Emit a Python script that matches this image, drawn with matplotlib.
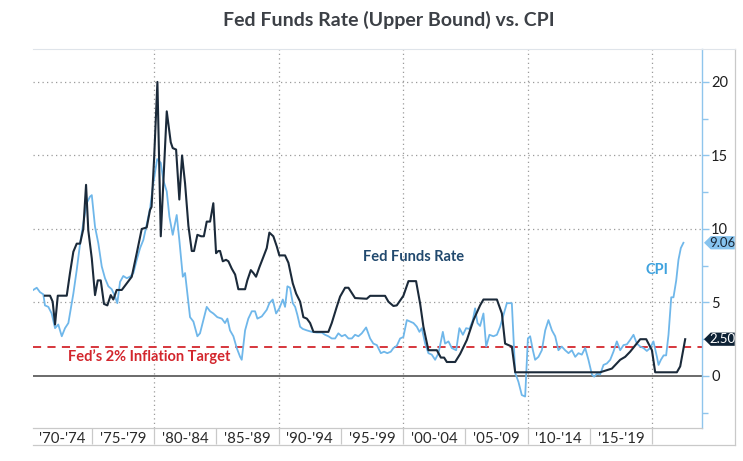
import matplotlib
matplotlib.use("Agg")
import matplotlib.pyplot as plt
from matplotlib.lines import Line2D
from matplotlib.patches import Polygon
import matplotlib.transforms as mtransforms

plt.rcParams['font.family'] = ['Lato', 'DejaVu Sans']

# ---------------- data ----------------
ffr_years = [1971.24, 1971.65, 1971.86, 1972.05, 1972.27, 1972.99, 1973.25, 1973.52, 1973.79, 1974.06,
             1974.32, 1974.54, 1974.72, 1975.0, 1975.26, 1975.48, 1975.72, 1975.98, 1976.25, 1976.52,
             1976.73, 1977.0, 1977.41, 1977.81, 1978.21, 1978.61, 1979.01, 1979.41, 1979.68, 1979.8,
             1980.0, 1980.27, 1980.54, 1981.02, 1981.34, 1981.5, 1981.77, 1982.03, 1982.25, 1982.49,
             1982.76, 1983.03, 1983.21, 1983.48, 1983.78, 1984.0, 1984.23, 1984.5, 1984.76, 1984.98,
             1985.16, 1985.3, 1985.52, 1985.78, 1985.97, 1986.24, 1986.51, 1986.77, 1987.04, 1987.31,
             1987.49, 1987.77, 1987.98, 1988.19, 1988.46, 1988.78, 1989.05, 1989.26, 1989.58, 1989.86,
             1990.06, 1990.52, 1990.79, 1991.14, 1991.41, 1991.73, 1991.99, 1992.27, 1992.53, 1992.8,
             1994.0, 1994.27, 1994.67, 1994.94, 1995.34, 1995.61, 1996.14, 1997.08, 1997.35, 1998.55,
             1998.82, 1999.22, 1999.49, 2000.02, 2000.43, 2001.04, 2001.37, 2001.63, 2002.03, 2002.71,
             2003.03, 2003.29, 2003.51, 2004.18, 2004.58, 2005.12, 2005.65, 2006.18, 2006.45, 2007.53,
             2007.93, 2008.19, 2008.73, 2009.0, 2015.82, 2016.76, 2017.43, 2017.83, 2018.23, 2019.04,
             2019.52, 2019.98, 2020.24, 2021.98, 2022.25, 2022.65]
ffr_vals = [5.46, 5.46, 5.05, 3.5, 5.46, 5.46, 7.0, 8.45, 9.0, 9.0,
            10.0, 13.0, 9.9, 8.0, 5.5, 6.5, 6.5, 4.9, 4.8, 5.5,
            5.2, 5.85, 5.85, 6.3, 6.75, 8.35, 10.0, 10.1, 11.3, 11.5,
            14.7, 20.0, 9.5, 18.0, 15.9, 15.5, 15.4, 12.0, 15.0, 13.1,
            10.2, 8.5, 8.5, 9.6, 9.5, 9.5, 10.5, 10.5, 11.75, 8.35,
            8.5, 8.5, 7.8, 7.9, 7.8, 7.3, 6.9, 5.9, 5.9, 5.9,
            6.5, 7.2, 7.0, 6.75, 7.4, 8.1, 8.7, 9.75, 9.5, 8.8,
            8.2, 8.2, 7.7, 6.3, 5.6, 5.05, 4.0, 3.9, 3.6, 3.0,
            3.0, 3.6, 4.7, 5.4, 6.0, 6.0, 5.3, 5.25, 5.45, 5.45,
            5.05, 4.76, 4.8, 5.45, 6.45, 6.45, 4.9, 3.35, 1.75, 1.75,
            1.25, 1.25, 0.95, 0.95, 1.5, 2.45, 3.8, 4.8, 5.2, 5.2,
            4.25, 2.2, 2.0, 0.25, 0.25, 0.5, 1.1, 1.3, 1.65, 2.5,
            2.5, 1.75, 0.25, 0.25, 0.65, 2.50]

cpi_years = [1970.3, 1970.58, 1970.84, 1971.11, 1971.24, 1971.51, 1971.78, 1972.05, 1972.31, 1972.59,
             1972.85, 1973.12, 1973.52, 1973.79, 1974.06, 1974.32, 1974.59, 1974.86, 1975.0, 1975.26,
             1975.53, 1975.8, 1976.06, 1976.33, 1976.6, 1976.87, 1977.05, 1977.27, 1977.53, 1977.81,
             1978.07, 1978.34, 1978.61, 1978.88, 1979.14, 1979.41, 1979.68, 1979.94, 1980.25, 1980.54,
             1980.75, 1981.02, 1981.23, 1981.5, 1981.82, 1982.03, 1982.31, 1982.49, 1982.89, 1983.16,
             1983.48, 1983.69, 1983.96, 1984.23, 1984.5, 1984.76, 1985.08, 1985.44, 1985.7, 1985.89,
             1986.1, 1986.37, 1986.64, 1986.91, 1987.04, 1987.31, 1987.57, 1987.85, 1988.11, 1988.3,
             1988.65, 1989.05, 1989.26, 1989.53, 1989.8, 1990.06, 1990.34, 1990.52, 1990.71, 1990.92,
             1991.14, 1991.33, 1991.51, 1991.73, 1991.94, 1992.27, 1992.67, 1993.07, 1993.47, 1993.73,
             1994.0, 1994.27, 1994.54, 1994.8, 1995.07, 1995.34, 1995.61, 1995.88, 1996.14, 1996.41,
             1996.68, 1997.03, 1997.35, 1997.61, 1997.89, 1998.21, 1998.47, 1998.73, 1999.01, 1999.22,
             1999.49, 1999.76, 2000.02, 2000.3, 2000.56, 2000.83, 2001.1, 2001.31, 2001.5, 2001.77,
             2002.03, 2002.3, 2002.57, 2002.84, 2003.19, 2003.37, 2003.64, 2003.91, 2004.26, 2004.52,
             2004.8, 2005.06, 2005.33, 2005.6, 2005.78, 2005.97, 2006.18, 2006.45, 2006.67, 2006.93,
             2007.25, 2007.53, 2007.79, 2008.06, 2008.33, 2008.73, 2009.0, 2009.26, 2009.53, 2009.8,
             2010.02, 2010.2, 2010.42, 2010.6, 2010.87, 2011.14, 2011.41, 2011.67, 2011.95, 2012.21,
             2012.47, 2012.74, 2013.01, 2013.28, 2013.55, 2013.82, 2014.08, 2014.35, 2014.62, 2014.88,
             2015.16, 2015.34, 2015.56, 2015.82, 2016.09, 2016.36, 2016.63, 2016.89, 2017.16, 2017.43,
             2017.7, 2017.97, 2018.23, 2018.5, 2018.77, 2019.04, 2019.3, 2019.57, 2019.84, 2020.1,
             2020.38, 2020.51, 2020.7, 2020.92, 2021.12, 2021.31, 2021.53, 2021.71, 2021.93, 2022.11,
             2022.3, 2022.51]
cpi_vals = [5.85, 6.0, 5.7, 5.55, 4.8, 4.7, 4.25, 3.25, 3.5, 2.7,
            3.25, 3.6, 5.6, 7.2, 9.0, 10.4, 11.75, 12.2, 12.3, 10.15,
            9.0, 7.45, 6.65, 6.1, 5.9, 5.4, 4.95, 6.4, 6.8, 6.65,
            6.75, 7.0, 7.9, 8.7, 9.25, 10.3, 11.4, 13.1, 14.75, 14.5,
            13.3, 12.55, 10.85, 9.6, 10.95, 9.25, 6.75, 7.0, 4.0, 3.7,
            2.7, 2.9, 3.8, 4.7, 4.4, 4.25, 4.0, 3.9, 3.6, 3.9,
            3.1, 2.7, 1.9, 1.3, 1.1, 3.1, 3.9, 4.4, 4.4, 3.9,
            4.05, 4.5, 4.95, 5.2, 4.25, 4.6, 5.2, 4.7, 6.1, 6.0,
            4.95, 4.7, 4.15, 3.35, 3.2, 3.1, 3.0, 2.95, 2.95, 2.8,
            2.7, 2.55, 2.55, 2.9, 2.7, 2.8, 2.55, 2.55, 2.8, 2.7,
            2.9, 3.3, 2.55, 2.2, 2.1, 1.55, 1.65, 1.55, 1.65, 1.9,
            2.05, 2.55, 2.65, 3.8, 3.7, 3.6, 3.35, 3.0, 3.25, 2.2,
            1.55, 1.45, 1.1, 1.55, 3.0, 2.2, 2.35, 1.9, 1.75, 3.25,
            2.8, 3.25, 3.2, 3.8, 4.6, 3.6, 3.4, 4.25, 2.0, 2.8,
            2.7, 2.8, 3.35, 4.15, 4.95, 4.95, 0.2, -0.4, -1.3, -1.4,
            2.55, 2.7, 1.75, 1.1, 1.3, 1.75, 3.1, 3.8, 3.1, 2.7,
            1.75, 2.0, 1.75, 1.55, 1.75, 1.3, 1.55, 1.45, 1.9, 1.1,
            0.1, -0.05, 0.15, 0.1, 0.75, 0.85, 1.1, 1.65, 2.35, 1.75,
            2.1, 2.15, 2.45, 2.8, 2.2, 2.0, 1.9, 1.7, 1.9, 2.35,
            1.3, 0.75, 1.1, 1.4, 1.4, 2.8, 5.35, 5.35, 6.5, 7.9,
            8.7, 9.06]

period_labels = ["'70-'74", "'75-'79", "'80-'84", "'85-'89", "'90-'94",
                 "'95-'99", "'00-'04", "'05-'09", "'10-'14", "'15-'19"]
period_bounds = [1975, 1980, 1985, 1990, 1995, 2000, 2005, 2010, 2015, 2020]
decade_grid = [1980, 1990, 2000, 2010, 2020]
right_ticks = [0, 5, 10, 15, 20]
right_minor = [-2.5, 2.5, 7.5, 12.5, 17.5]
inflation_target = 2

# ---------------- styling ----------------
C_FFR = '#1b2a3a'
C_CPI = '#6fb7ea'
C_RED = '#d3262d'
C_AXIS = '#8fc5ec'
C_GRID = '#9b9b9b'
C_FRAME = '#c9c9c9'

W, H = 743, 461
fig = plt.figure(figsize=(W / 100, H / 100), dpi=100)
ax = fig.add_axes([33 / W, 1 - 428 / H, (702 - 33) / W, (428 - 49) / H])
x0, x1 = 1970.28, 2024.0
ax.set_xlim(x0, x1)
ax.set_ylim(-3.54, 22.24)

# grid
for v in right_ticks[1:]:
    ax.axhline(v, color=C_GRID, lw=0.9, linestyle=(0, (1, 2.6)), zorder=1)
for d in decade_grid:
    ax.axvline(d, color=C_GRID, lw=0.9, linestyle=(0, (1, 2.6)), zorder=1)

ax.axhline(0, color='#5f5f5f', lw=1.3, zorder=2)
ax.axhline(inflation_target, color=C_RED, lw=1.3, dashes=(4.5, 3.5), zorder=2)

ax.plot(cpi_years, cpi_vals, color=C_CPI, lw=1.3, zorder=3)
ax.plot(ffr_years, ffr_vals, color=C_FFR, lw=1.5, zorder=4)

# spines
ax.spines['left'].set_visible(False)
ax.spines['right'].set_color(C_AXIS)
ax.spines['right'].set_linewidth(1.0)
ax.spines['top'].set_color('#dfe4ea')
ax.spines['top'].set_linewidth(0.8)
ax.spines['bottom'].set_color(C_FRAME)
ax.spines['bottom'].set_linewidth(0.9)

# right axis ticks
ax.yaxis.tick_right()
ax.set_yticks(right_ticks)
ax.set_yticks(right_minor, minor=True)
ax.tick_params(axis='y', which='major', length=5, width=1, color=C_AXIS,
               labelsize=10.5, labelcolor='#1e1e1e', pad=1.5)
ax.tick_params(axis='y', which='minor', length=4, width=1, color=C_AXIS)

# x axis: boxed period labels
bounds_full = [x0] + period_bounds
centers = [(a + b) / 2 for a, b in zip(bounds_full[:-1], bounds_full[1:])]
ax.set_xticks(period_bounds)
ax.set_xticklabels([])
ax.set_xticks(centers, minor=True)
ax.set_xticklabels(period_labels, minor=True)
ax.tick_params(axis='x', which='major', length=11.8, width=0.9, color=C_FRAME, direction='out')
ax.tick_params(axis='x', which='minor', length=0, labelsize=10.8, labelcolor='#2a2a2a', pad=3.0)

# outer frame lines (layout)
fig.add_artist(Line2D([33 / W, 735 / W], [1 - 444.5 / H, 1 - 444.5 / H], color=C_FRAME, lw=0.9))
fig.add_artist(Line2D([735 / W, 735 / W], [1 - 49 / H, 1 - 444.5 / H], color=C_FRAME, lw=0.9))
fig.add_artist(Line2D([702 / W, 735 / W], [1 - 49 / H, 1 - 49 / H], color='#dfe4ea', lw=0.8))

# value tags
trans = mtransforms.blended_transform_factory(ax.transAxes, ax.transData)
def tag(val, fc, tc):
    h = 0.45
    pts = [(1.003, val), (1.013, val + h), (1.049, val + h), (1.049, val - h), (1.013, val - h)]
    ax.add_patch(Polygon(pts, closed=True, transform=trans, facecolor=fc, edgecolor='none',
                         clip_on=False, zorder=5))
    ax.text(1.0305, val, f"{val:.2f}", transform=trans, ha='center', va='center',
            fontsize=9.5, color=tc, clip_on=False, zorder=6)

tag(cpi_vals[-1], '#86c3ee', '#1a2635')
tag(ffr_vals[-1], '#0e2235', 'white')

# annotations
ax.text(2000.8, 8.1, 'Fed Funds Rate', ha='center', va='center', fontsize=10.5,
        fontweight='bold', color='#21496e', zorder=6)
ax.text(2020.4, 7.2, 'CPI', ha='center', va='center', fontsize=10.5,
        fontweight='bold', color='#3ea2de', zorder=6)
ax.text(1979.6, 1.3, "Fed\u2019s 2% Inflation Target", ha='center', va='center', fontsize=10.5,
        fontweight='bold', color=C_RED, zorder=6)

fig.text(389 / W, 1 - 20 / H, 'Fed Funds Rate (Upper Bound) vs. CPI', ha='center', va='center',
         fontsize=14, fontweight='bold', color='#3c4046')

fig.savefig('out.png', dpi=100, facecolor='white')
